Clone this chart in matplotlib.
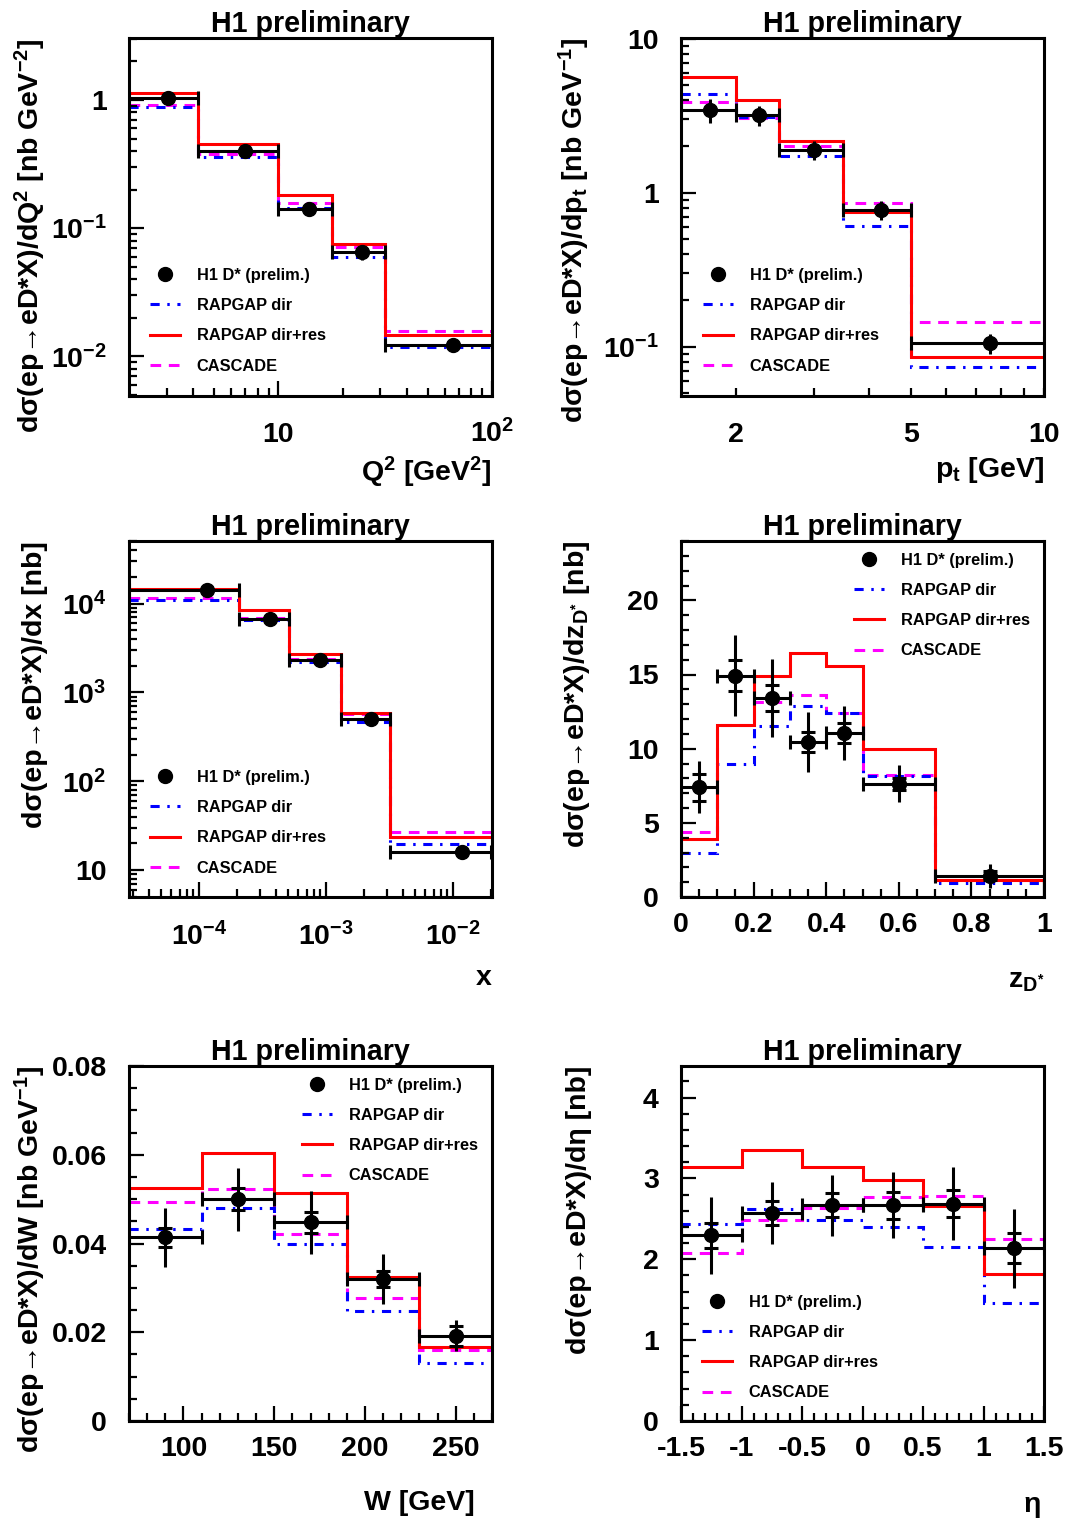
import numpy as np
import matplotlib
matplotlib.use('Agg')
import matplotlib.pyplot as plt
from matplotlib.lines import Line2D
from matplotlib.ticker import FixedLocator, NullFormatter, FuncFormatter, MultipleLocator

plt.rcParams['font.family'] = ['Liberation Sans', 'DejaVu Sans']
plt.rcParams['font.weight'] = 'bold'
plt.rcParams['axes.labelweight'] = 'bold'
plt.rcParams['mathtext.fontset'] = 'custom'
plt.rcParams['mathtext.rm'] = 'Liberation Sans:bold'
plt.rcParams['mathtext.it'] = 'Liberation Sans:bold'
plt.rcParams['mathtext.bf'] = 'Liberation Sans:bold'
plt.rcParams['mathtext.default'] = 'rm'
plt.rcParams['axes.unicode_minus'] = False

# ---- Q2 ----
q2_edges = [2, 4.22, 10, 17.8, 31.6, 100]
q2_x = [3.06, 7.0, 13.9, 24.7, 66.0]
q2_data = [1.03, 0.40, 0.141, 0.0646, 0.0123]
q2_err = [0.10, 0.045, 0.017, 0.008, 0.0015]
q2_dir = [0.887, 0.36, 0.143, 0.0597, 0.0118]
q2_res = [1.13, 0.453, 0.183, 0.075, 0.0146]
q2_casc = [0.914, 0.378, 0.158, 0.0714, 0.0157]

# ---- pt ----
pt_edges = [1.5, 2, 2.5, 3.5, 5, 10]
pt_x = [1.75, 2.25, 3.0, 4.27, 7.55]
pt_data = [3.46, 3.18, 1.90, 0.776, 0.106]
pt_err = [0.62, 0.45, 0.27, 0.11, 0.016]
pt_dir = [4.37, 3.10, 1.72, 0.61, 0.0738]
pt_res = [5.64, 3.98, 2.18, 0.745, 0.0865]
pt_casc = [3.86, 3.04, 2.0, 0.857, 0.145]

# ---- x ----
x_edges = [2.8e-5, 2.05e-4, 5.1e-4, 1.3e-3, 3.2e-3, 2.0e-2]
x_x = [1.16e-4, 3.58e-4, 8.97e-4, 2.26e-3, 1.18e-2]
x_data = [1.41e4, 6780, 2307, 497, 16.2]
x_err = [1100, 550, 190, 40, 1.8]
x_dir = [1.11e4, 6610, 2210, 468, 19.6]
x_res = [1.45e4, 8410, 2740, 581, 23.5]
x_casc = [1.16e4, 6970, 2410, 570, 26.7]

# ---- z_D* ----
z_edges = [0, 0.1, 0.2, 0.3, 0.4, 0.5, 0.7, 1.0]
z_x = [0.05, 0.15, 0.25, 0.35, 0.45, 0.6, 0.85]
z_data = [7.39, 14.93, 13.42, 10.45, 11.06, 7.64, 1.44]
z_tot = [1.75, 2.7, 2.6, 2.0, 1.8, 1.25, 0.8]
z_stat = [0.93, 1.05, 0.85, 0.7, 0.65, 0.4, 0.3]
z_dir = [2.99, 8.99, 11.5, 12.86, 12.41, 8.18, 0.93]
z_res = [3.9, 11.62, 14.93, 16.42, 15.56, 10.0, 1.15]
z_casc = [4.35, 11.58, 13.13, 13.6, 12.41, 8.24, 1.15]

# ---- W ----
w_edges = [70, 110, 150, 190, 230, 270]
w_x = [90, 130, 170, 210, 250]
w_data = [0.0414, 0.0500, 0.0448, 0.0320, 0.0192]
w_tot = [0.0066, 0.0071, 0.0071, 0.0056, 0.0035]
w_stat = [0.0022, 0.0025, 0.0024, 0.0019, 0.0022]
w_dir = [0.0433, 0.0481, 0.0400, 0.0249, 0.0130]
w_res = [0.0526, 0.0605, 0.0513, 0.0324, 0.0167]
w_casc = [0.0494, 0.0522, 0.0421, 0.0277, 0.0161]

# ---- eta ----
eta_edges = [-1.5, -1.0, -0.5, 0, 0.5, 1.0, 1.5]
eta_x = [-1.25, -0.75, -0.25, 0.25, 0.75, 1.25]
eta_data = [2.294, 2.574, 2.668, 2.668, 2.689, 2.134]
eta_tot = [0.48, 0.38, 0.38, 0.41, 0.45, 0.49]
eta_stat = [0.155, 0.145, 0.15, 0.165, 0.165, 0.185]
eta_dir = [2.43, 2.627, 2.49, 2.397, 2.155, 1.465]
eta_res = [3.14, 3.35, 3.14, 2.975, 2.66, 1.82]
eta_casc = [2.08, 2.49, 2.635, 2.766, 2.787, 2.245]

legend_labels = ['H1 D* (prelim.)', 'RAPGAP dir', 'RAPGAP dir+res', 'CASCADE']

LW = 2.2
DASHDOT = (0, (3, 2.5, 0.8, 2.5))
DASHED = (0, (3.5, 2.5))
TICKFS = 20.5


def draw(ax, edges, xp, data, tot, stat, mdir, mres, mcasc):
    ax.stairs(mcasc, edges, color='magenta', lw=LW, ls=DASHED, baseline=None)
    ax.stairs(mdir, edges, color='blue', lw=LW, ls=DASHDOT, baseline=None)
    ax.stairs(mres, edges, color='red', lw=LW, baseline=None)
    xp = np.array(xp)
    lo = xp - np.array(edges[:-1])
    hi = np.array(edges[1:]) - xp
    ax.errorbar(xp, data, xerr=[lo, hi], fmt='none', ecolor='k',
                elinewidth=LW, capsize=4.7, capthick=LW)
    ax.errorbar(xp, data, yerr=tot, fmt='none', ecolor='k', elinewidth=LW)
    if stat is not None:
        ax.errorbar(xp, data, yerr=stat, fmt='none', ecolor='k',
                    elinewidth=0, capsize=4.7, capthick=LW)
    ax.plot(xp, data, 'o', color='k', ms=10)


def legend(ax, bx, by):
    handles = [Line2D([], [], marker='o', ls='none', color='k', ms=10),
               Line2D([], [], color='blue', lw=LW, ls=DASHDOT),
               Line2D([], [], color='red', lw=LW),
               Line2D([], [], color='magenta', lw=LW, ls=DASHED)]
    ax.legend(handles, legend_labels, loc='upper left', bbox_to_anchor=(bx, by),
              frameon=False, fontsize=11.8, handlelength=1.85,
              handletextpad=1.0, labelspacing=0.93, borderpad=0,
              borderaxespad=0)


def logfmt(v, pos):
    e = int(round(np.log10(v)))
    if e == 0:
        return '1'
    if e == 1:
        return '10'
    return r'$10^{%d}$' % e


def style(ax, xpad, ylab, xlab, xlab_xy, ylab_x=-0.222):
    for s in ax.spines.values():
        s.set_linewidth(2.2)
    ax.tick_params(which='both', direction='in', top=False, right=False,
                   labelsize=TICKFS, width=1.6)
    ax.tick_params(which='major', length=11)
    ax.tick_params(which='minor', length=5.5)
    ax.tick_params(axis='x', pad=xpad)
    ax.tick_params(axis='y', pad=16)
    for t in ax.xaxis.get_major_ticks():
        t.label1.set_va('baseline')
    ax.set_title('H1 preliminary', fontsize=20.6, fontweight='bold', pad=4)
    ax.set_ylabel(ylab, fontsize=20.5, loc='top')
    ax.yaxis.set_label_coords(ylab_x, 1.0)
    ax.set_xlabel(xlab, fontsize=20.5, loc='right')
    ax.xaxis.set_label_coords(*xlab_xy)


fig = plt.figure(figsize=(10.66, 15.21), dpi=100)
W, H = 1066.0, 1521.0


def axes_at(l, r, t, b):
    return fig.add_axes([l / W, 1 - b / H, (r - l) / W, (b - t) / H])


# Q2 panel
ax = axes_at(129, 492, 38, 396)
draw(ax, q2_edges, q2_x, q2_data, q2_err, None, q2_dir, q2_res, q2_casc)
ax.set_xscale('log'); ax.set_yscale('log')
ax.set_xlim(2, 100); ax.set_ylim(0.0049, 3.05)
ax.xaxis.set_major_locator(FixedLocator([10, 100]))
ax.xaxis.set_minor_locator(FixedLocator([3, 4, 5, 6, 7, 8, 9, 20, 30, 40, 50, 60, 70, 80, 90]))
ax.xaxis.set_major_formatter(FuncFormatter(logfmt))
ax.xaxis.set_minor_formatter(NullFormatter())
ax.yaxis.set_major_locator(FixedLocator([0.01, 0.1, 1]))
ax.yaxis.set_minor_locator(FixedLocator([k * 10.0 ** e for e in (-3, -2, -1, 0) for k in range(2, 10)]))
ax.yaxis.set_major_formatter(FuncFormatter(logfmt))
ax.yaxis.set_minor_formatter(NullFormatter())
legend(ax, 0.058, 0.358)
style(ax, 33, r'dσ(ep→eD*X)/dQ$^{2}$ [nb GeV$^{-2}$]',
      r'Q$^{2}$ [GeV$^{2}$]', (1.0, -0.165))

# pt panel
ax = axes_at(681, 1044, 38, 396)
draw(ax, pt_edges, pt_x, pt_data, pt_err, None, pt_dir, pt_res, pt_casc)
ax.set_xscale('log'); ax.set_yscale('log')
ax.set_xlim(1.5, 10); ax.set_ylim(0.048, 10.1)
ax.xaxis.set_major_locator(FixedLocator([2, 5, 10]))
ax.xaxis.set_minor_locator(FixedLocator([3, 4, 6, 7, 8, 9]))
ax.xaxis.set_major_formatter(FuncFormatter(lambda v, p: '%g' % v))
ax.xaxis.set_minor_formatter(NullFormatter())
ax.yaxis.set_major_locator(FixedLocator([0.1, 1, 10]))
ax.yaxis.set_minor_locator(FixedLocator([k * 10.0 ** e for e in (-2, -1, 0) for k in range(2, 10)]))
ax.yaxis.set_major_formatter(FuncFormatter(logfmt))
ax.yaxis.set_minor_formatter(NullFormatter())
legend(ax, 0.061, 0.358)
style(ax, 33, r'dσ(ep→eD*X)/dp$_{t}$ [nb GeV$^{-1}$]',
      r'p$_{t}$ [GeV]', (1.0, -0.165), ylab_x=-0.245)
ax.tick_params(axis='x', which='major', length=5.5)

# x panel
ax = axes_at(129, 492, 541, 897)
draw(ax, x_edges, x_x, x_data, x_err, None, x_dir, x_res, x_casc)
ax.set_xscale('log'); ax.set_yscale('log')
ax.set_xlim(2.8e-5, 2.02e-2); ax.set_ylim(5.0, 5.06e4)
ax.xaxis.set_major_locator(FixedLocator([1e-4, 1e-3, 1e-2]))
ax.xaxis.set_minor_locator(FixedLocator([k * 10.0 ** e for e in (-5, -4, -3, -2) for k in range(2, 10)]))
ax.xaxis.set_major_formatter(FuncFormatter(logfmt))
ax.xaxis.set_minor_formatter(NullFormatter())
ax.yaxis.set_major_locator(FixedLocator([10, 100, 1000, 10000]))
ax.yaxis.set_minor_locator(FixedLocator([k * 10.0 ** e for e in (0, 1, 2, 3, 4) for k in range(2, 10)]))
ax.yaxis.set_major_formatter(FuncFormatter(logfmt))
ax.yaxis.set_minor_formatter(NullFormatter())
legend(ax, 0.058, 0.357)
style(ax, 34.5, r'dσ(ep→eD*X)/dx [nb]', 'x', (1.0, -0.19))

# z panel
ax = axes_at(681, 1044, 541, 897)
draw(ax, z_edges, z_x, z_data, z_tot, z_stat, z_dir, z_res, z_casc)
ax.set_xlim(0, 1); ax.set_ylim(0, 24)
ax.xaxis.set_major_locator(MultipleLocator(0.2))
ax.xaxis.set_minor_locator(MultipleLocator(0.05))
ax.xaxis.set_major_formatter(FuncFormatter(lambda v, p: '%g' % round(v, 3)))
ax.yaxis.set_major_locator(MultipleLocator(5))
ax.yaxis.set_minor_locator(MultipleLocator(1))
ax.yaxis.set_major_formatter(FuncFormatter(lambda v, p: '%g' % v))
legend(ax, 0.477, 0.967)
style(ax, 25, r'dσ(ep→eD*X)/dz$_{D^{*}}$ [nb]', r'z$_{D^{*}}$', (1.0, -0.2),
      ylab_x=-0.245)

# W panel
ax = axes_at(129, 492, 1066, 1421)
draw(ax, w_edges, w_x, w_data, w_tot, w_stat, w_dir, w_res, w_casc)
ax.set_xlim(70, 270); ax.set_ylim(0, 0.08)
ax.xaxis.set_major_locator(MultipleLocator(50))
ax.xaxis.set_minor_locator(MultipleLocator(10))
ax.xaxis.set_major_formatter(FuncFormatter(lambda v, p: '%g' % v))
ax.yaxis.set_major_locator(MultipleLocator(0.02))
ax.yaxis.set_minor_locator(MultipleLocator(0.005))
ax.yaxis.set_major_formatter(FuncFormatter(lambda v, p: '%g' % round(v, 4)))
legend(ax, 0.477, 0.967)
style(ax, 25, r'dσ(ep→eD*X)/dW [nb GeV$^{-1}$]', 'W [GeV]', (0.953, -0.194))

# eta panel
ax = axes_at(681, 1044, 1066, 1421)
draw(ax, eta_edges, eta_x, eta_data, eta_tot, eta_stat, eta_dir, eta_res, eta_casc)
ax.set_xlim(-1.5, 1.5); ax.set_ylim(0, 4.39)
ax.xaxis.set_major_locator(MultipleLocator(0.5))
ax.xaxis.set_minor_locator(MultipleLocator(0.1))
ax.xaxis.set_major_formatter(FuncFormatter(lambda v, p: '%g' % round(v, 3)))
ax.yaxis.set_major_locator(MultipleLocator(1))
ax.yaxis.set_minor_locator(MultipleLocator(0.2))
ax.yaxis.set_major_formatter(FuncFormatter(lambda v, p: '%g' % v))
legend(ax, 0.058, 0.356)
style(ax, 25, r'dσ(ep→eD*X)/dη [nb]', 'η', (0.992, -0.2), ylab_x=-0.245)

fig.savefig('out.png', dpi=100)
